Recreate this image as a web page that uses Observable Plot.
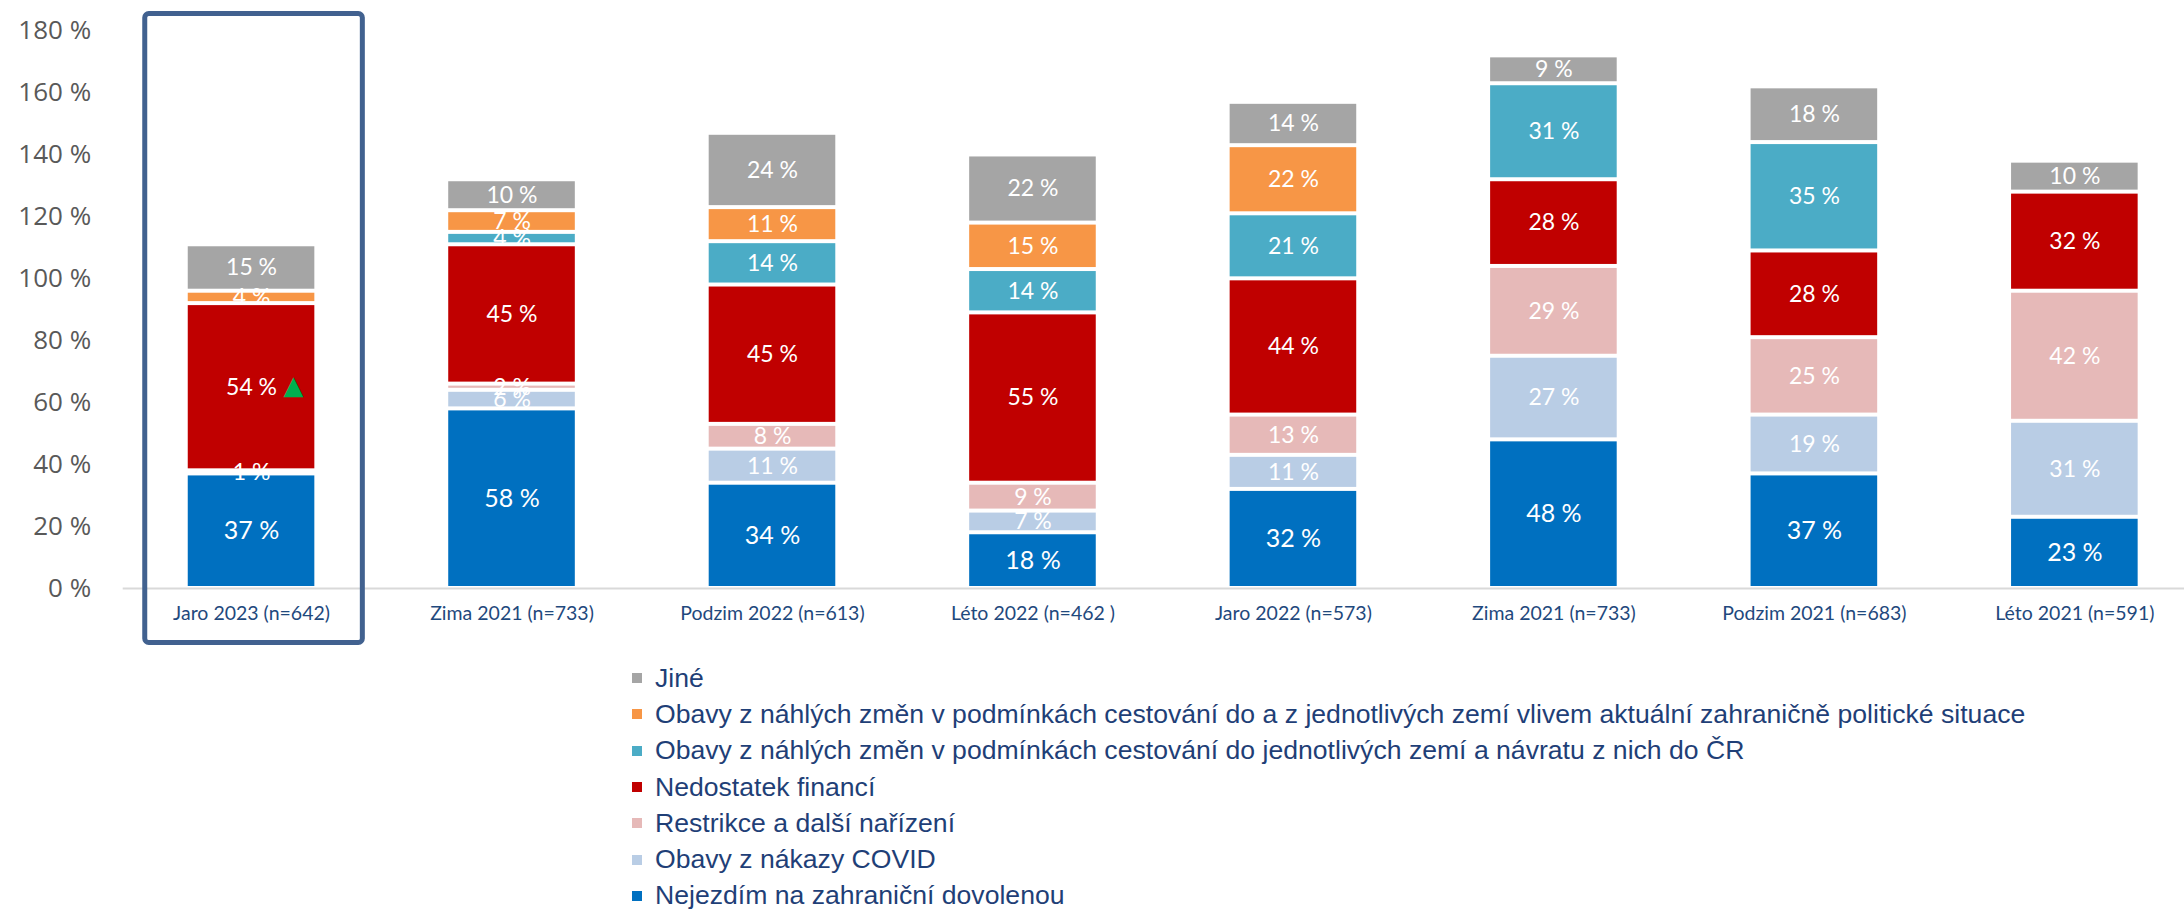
<!DOCTYPE html>
<html><head><meta charset="utf-8">
<script src="https://cdn.jsdelivr.net/npm/d3@7"></script>
<script src="https://cdn.jsdelivr.net/npm/@observablehq/plot@0.6"></script>
<style>
html,body{margin:0;padding:0;background:#fff;}
#chart svg{display:block;}
#legend{font-family:"Liberation Sans",Arial,sans-serif;font-size:26.6px;color:#1F3F77;padding-left:632px;}
.row{height:36.3px;display:flex;align-items:center;white-space:nowrap;}
.sw{width:10px;height:10px;margin-right:13px;flex:none;}
</style></head><body>
<div id="chart"></div><div id="legend"></div>
<script>
// Categories (x axis), left to right
const categories = ["Jaro 2023 (n=642)", "Zima 2021 (n=733)", "Podzim 2022 (n=613)", "Léto 2022 (n=462 )", "Jaro 2022 (n=573)", "Zima 2021 (n=733)", "Podzim 2021 (n=683)", "Léto 2021 (n=591)"];
// Series, bottom of stack to top
const seriesNames = ["Nejezdím na zahraniční dovolenou", "Obavy z nákazy COVID", "Restrikce a další nařízení", "Nedostatek financí", "Obavy z náhlých změn v podmínkách cestování do jednotlivých zemí a návratu z nich do ČR", "Obavy z náhlých změn v podmínkách cestování do a z jednotlivých zemí vlivem aktuální zahraničně politické situace", "Jiné"];
const seriesColors = ["#0070C0", "#B9CDE5", "#E6B9B8", "#C00000", "#4BACC6", "#F79646", "#A5A5A5"];
// Values (%) per category
const nejezdim  = [37, 58, 34, 18, 32, 48, 37, 23];
const covid     = [1, 6, 11, 7, 11, 27, 19, 31];
const restrikce = [null, 2, 8, 9, 13, 29, 25, 42];
const finance   = [54, 45, 45, 55, 44, 28, 28, 32];
const navrat    = [null, 4, 14, 14, 21, 31, 35, null];
const politika  = [4, 7, 11, 15, 22, null, null, null];
const jine      = [15, 10, 24, 22, 14, 9, 18, 10];
// Significance markers and highlighted category
const markers = [{cat: 0, series: "Nedostatek financí", symbol: "▲"}];
const highlight = [0];
const yTicks = [0, 20, 40, 60, 80, 100, 120, 140, 160, 180];

const seriesValues = [nejezdim, covid, restrikce, finance, navrat, politika, jine];
const data = [];
seriesNames.forEach((s, si) => {
  seriesValues[si].forEach((v, ci) => {
    if (v == null) return;
    const m = markers.find(m => m.cat === ci && m.series === s);
    data.push({cat: ci, series: s, value: v, mark: m ? m.symbol : "", blue: si === 0});
  });
});

const stackOpts = {x: "cat", y: "value", z: "series", order: seriesNames};

const plot = Plot.plot({
  width: 2184,
  height: 660,
  marginLeft: 161.7,
  marginRight: 20.3,
  marginTop: 30.6,
  marginBottom: 72,
  x: {type: "band", domain: d3.range(categories.length), paddingInner: 0.514, paddingOuter: 0.1, round: false},
  y: {domain: [0, 180]},
  color: {domain: seriesNames, range: seriesColors},
  style: {background: "white", overflow: "visible"},
  marks: [
    Plot.barY(data, Plot.stackY({...stackOpts, fill: "series", insetTop: 2, insetBottom: 2})),
    Plot.text(data, Plot.stackY({...stackOpts, text: d => `${d.value} %`, fill: "white",
      fontSize: d => d.blue ? 25 : 23, fontFamily: "Lato"})),
    Plot.text(data, Plot.stackY({...stackOpts, text: "mark", fill: "#00B050", dx: 42, dy: -2,
      fontSize: 26, fontFamily: "DejaVu Sans"})),
    Plot.ruleY([0], {stroke: "#D9D9D9", strokeWidth: 2, insetLeft: -39, insetRight: -20.3}),
    Plot.barY(highlight, {x: d => d, y1: 0, y2: 180, fill: "none", stroke: "#41618F", strokeWidth: 5, rx: 4,
      insetLeft: -43, insetRight: -48, insetTop: -17, insetBottom: -54.5}),
    Plot.axisY(yTicks, {tickSize: 0, tickPadding: 71, tickFormat: d => `${d} %`, fontSize: 26,
      fontFamily: "Open Sans", fill: "#595959", label: null}),
    Plot.axisX({tickSize: 0, tickPadding: 18, tickFormat: i => categories[i], fontSize: 19.5,
      fontFamily: "Lato", fill: "#1F497D", label: null})
  ]
});
document.getElementById("chart").appendChild(plot);

const legend = document.getElementById("legend");
seriesNames.map((s, i) => ({s, c: seriesColors[i]})).reverse().forEach(({s, c}) => {
  const row = document.createElement("div");
  row.className = "row";
  const sw = document.createElement("span");
  sw.className = "sw";
  sw.style.background = c;
  const t = document.createElement("span");
  t.textContent = s;
  row.appendChild(sw);
  row.appendChild(t);
  legend.appendChild(row);
});
</script>
</body></html>
